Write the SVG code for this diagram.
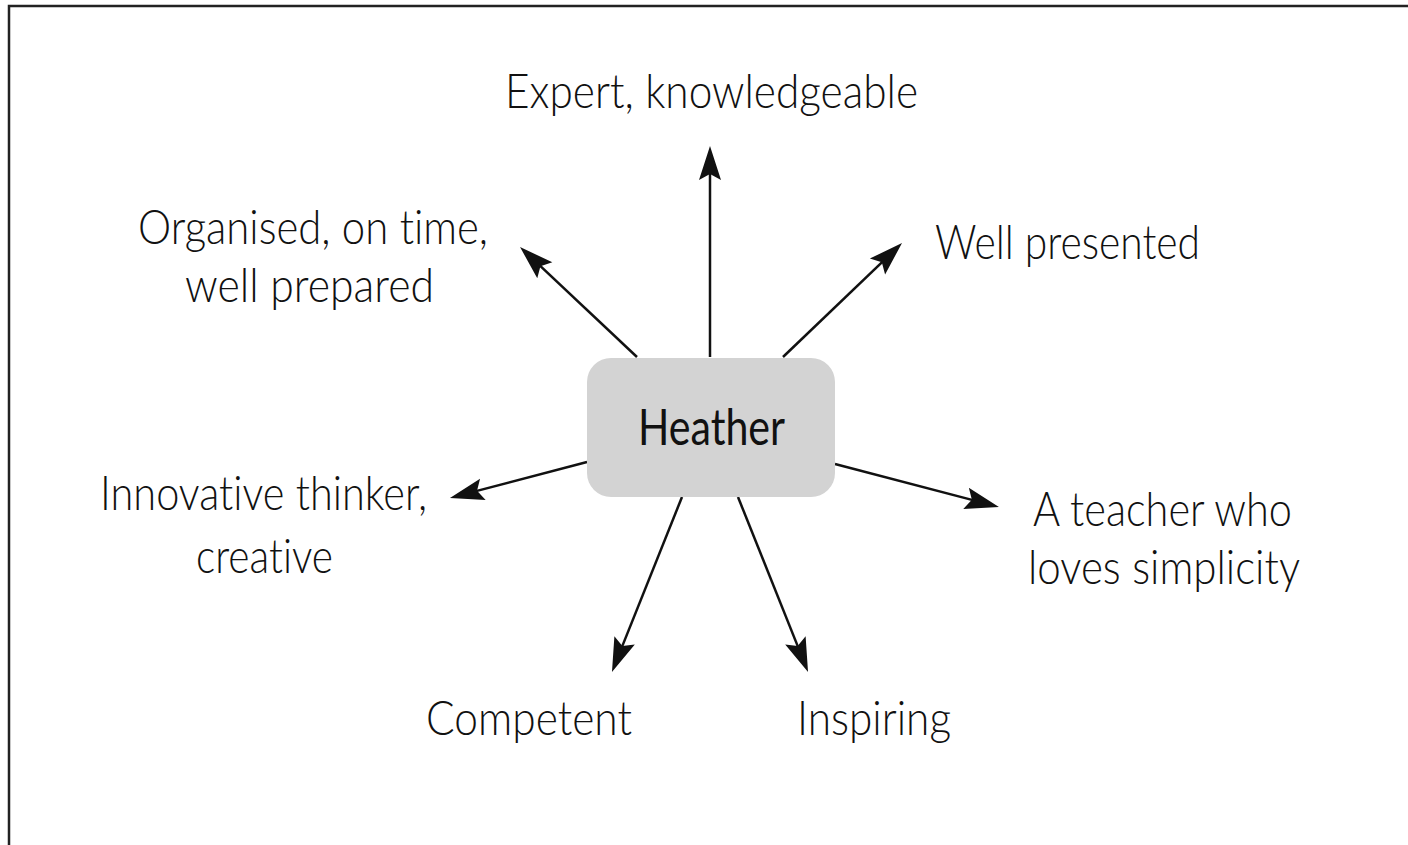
<svg xmlns="http://www.w3.org/2000/svg" width="1408" height="845" viewBox="0 0 1408 845">
  <style>
    .frame { fill: none; stroke: #222; stroke-width: 2.5; }
    .hub { fill: #d3d3d3; }
    .lbl { font-family: "Lato", "Liberation Sans", sans-serif; font-weight: 300; font-size: 47px; fill: #111; font-variant-ligatures: none; font-feature-settings: "liga" 0, "clig" 0; }
    .hub-lbl { font-family: "Lato", "Liberation Sans", sans-serif; font-weight: 400; font-size: 51px; fill: #111; font-variant-ligatures: none; }
    .conn { stroke: #111; stroke-width: 2.5; fill: none; marker-end: url(#head); }
  </style>
  <defs>
    <marker id="head" markerUnits="userSpaceOnUse" orient="auto" markerWidth="60" markerHeight="40" viewBox="-20 -20 60 40" refX="0" refY="0" overflow="visible">
      <path d="M20,0 L-14,-11 L-8,0 L-14,11 Z" fill="#111"/>
    </marker>
  </defs>

  <rect class="frame" x="9" y="6" width="1420" height="860"/>

  <g id="connectors">
    <line class="conn" x1="710" y1="357" x2="710" y2="166"/>
    <line class="conn" x1="637" y1="357" x2="534.6" y2="260.7"/>
    <line class="conn" x1="783" y1="357" x2="887.6" y2="256.8"/>
    <line class="conn" x1="587" y1="462" x2="469.3" y2="492.9"/>
    <line class="conn" x1="835" y1="464" x2="979.6" y2="501.9"/>
    <line class="conn" x1="682" y1="497" x2="619.4" y2="653.4"/>
    <line class="conn" x1="738" y1="497" x2="800.6" y2="653.4"/>
  </g>

  <g id="heather">
    <rect class="hub" x="587" y="358" width="248" height="139" rx="24" ry="24"/>
    <text class="hub-lbl" x="638" y="445" textLength="147" lengthAdjust="spacingAndGlyphs">Heather</text>
  </g>

  <g id="expert">
    <text class="lbl" x="505" y="108" textLength="413" lengthAdjust="spacingAndGlyphs">Expert, knowledgeable</text>
  </g>

  <g id="organised">
    <text class="lbl" x="138" y="244" textLength="350" lengthAdjust="spacingAndGlyphs">Organised, on time,</text>
    <text class="lbl" x="185" y="302" textLength="249" lengthAdjust="spacingAndGlyphs">well prepared</text>
  </g>

  <g id="well-presented">
    <text class="lbl" x="935" y="259" textLength="265" lengthAdjust="spacingAndGlyphs">Well presented</text>
  </g>

  <g id="innovative">
    <text class="lbl" x="100" y="510" textLength="327" lengthAdjust="spacingAndGlyphs">Innovative thinker,</text>
    <text class="lbl" x="196" y="573" textLength="137" lengthAdjust="spacingAndGlyphs">creative</text>
  </g>

  <g id="teacher">
    <text class="lbl" x="1033" y="526" textLength="259" lengthAdjust="spacingAndGlyphs">A teacher who</text>
    <text class="lbl" x="1028" y="584" textLength="272" lengthAdjust="spacingAndGlyphs">loves simplicity</text>
  </g>

  <g id="competent">
    <text class="lbl" x="426" y="735" textLength="206" lengthAdjust="spacingAndGlyphs">Competent</text>
  </g>

  <g id="inspiring">
    <text class="lbl" x="797" y="735" textLength="154" lengthAdjust="spacingAndGlyphs">Inspiring</text>
  </g>
</svg>
